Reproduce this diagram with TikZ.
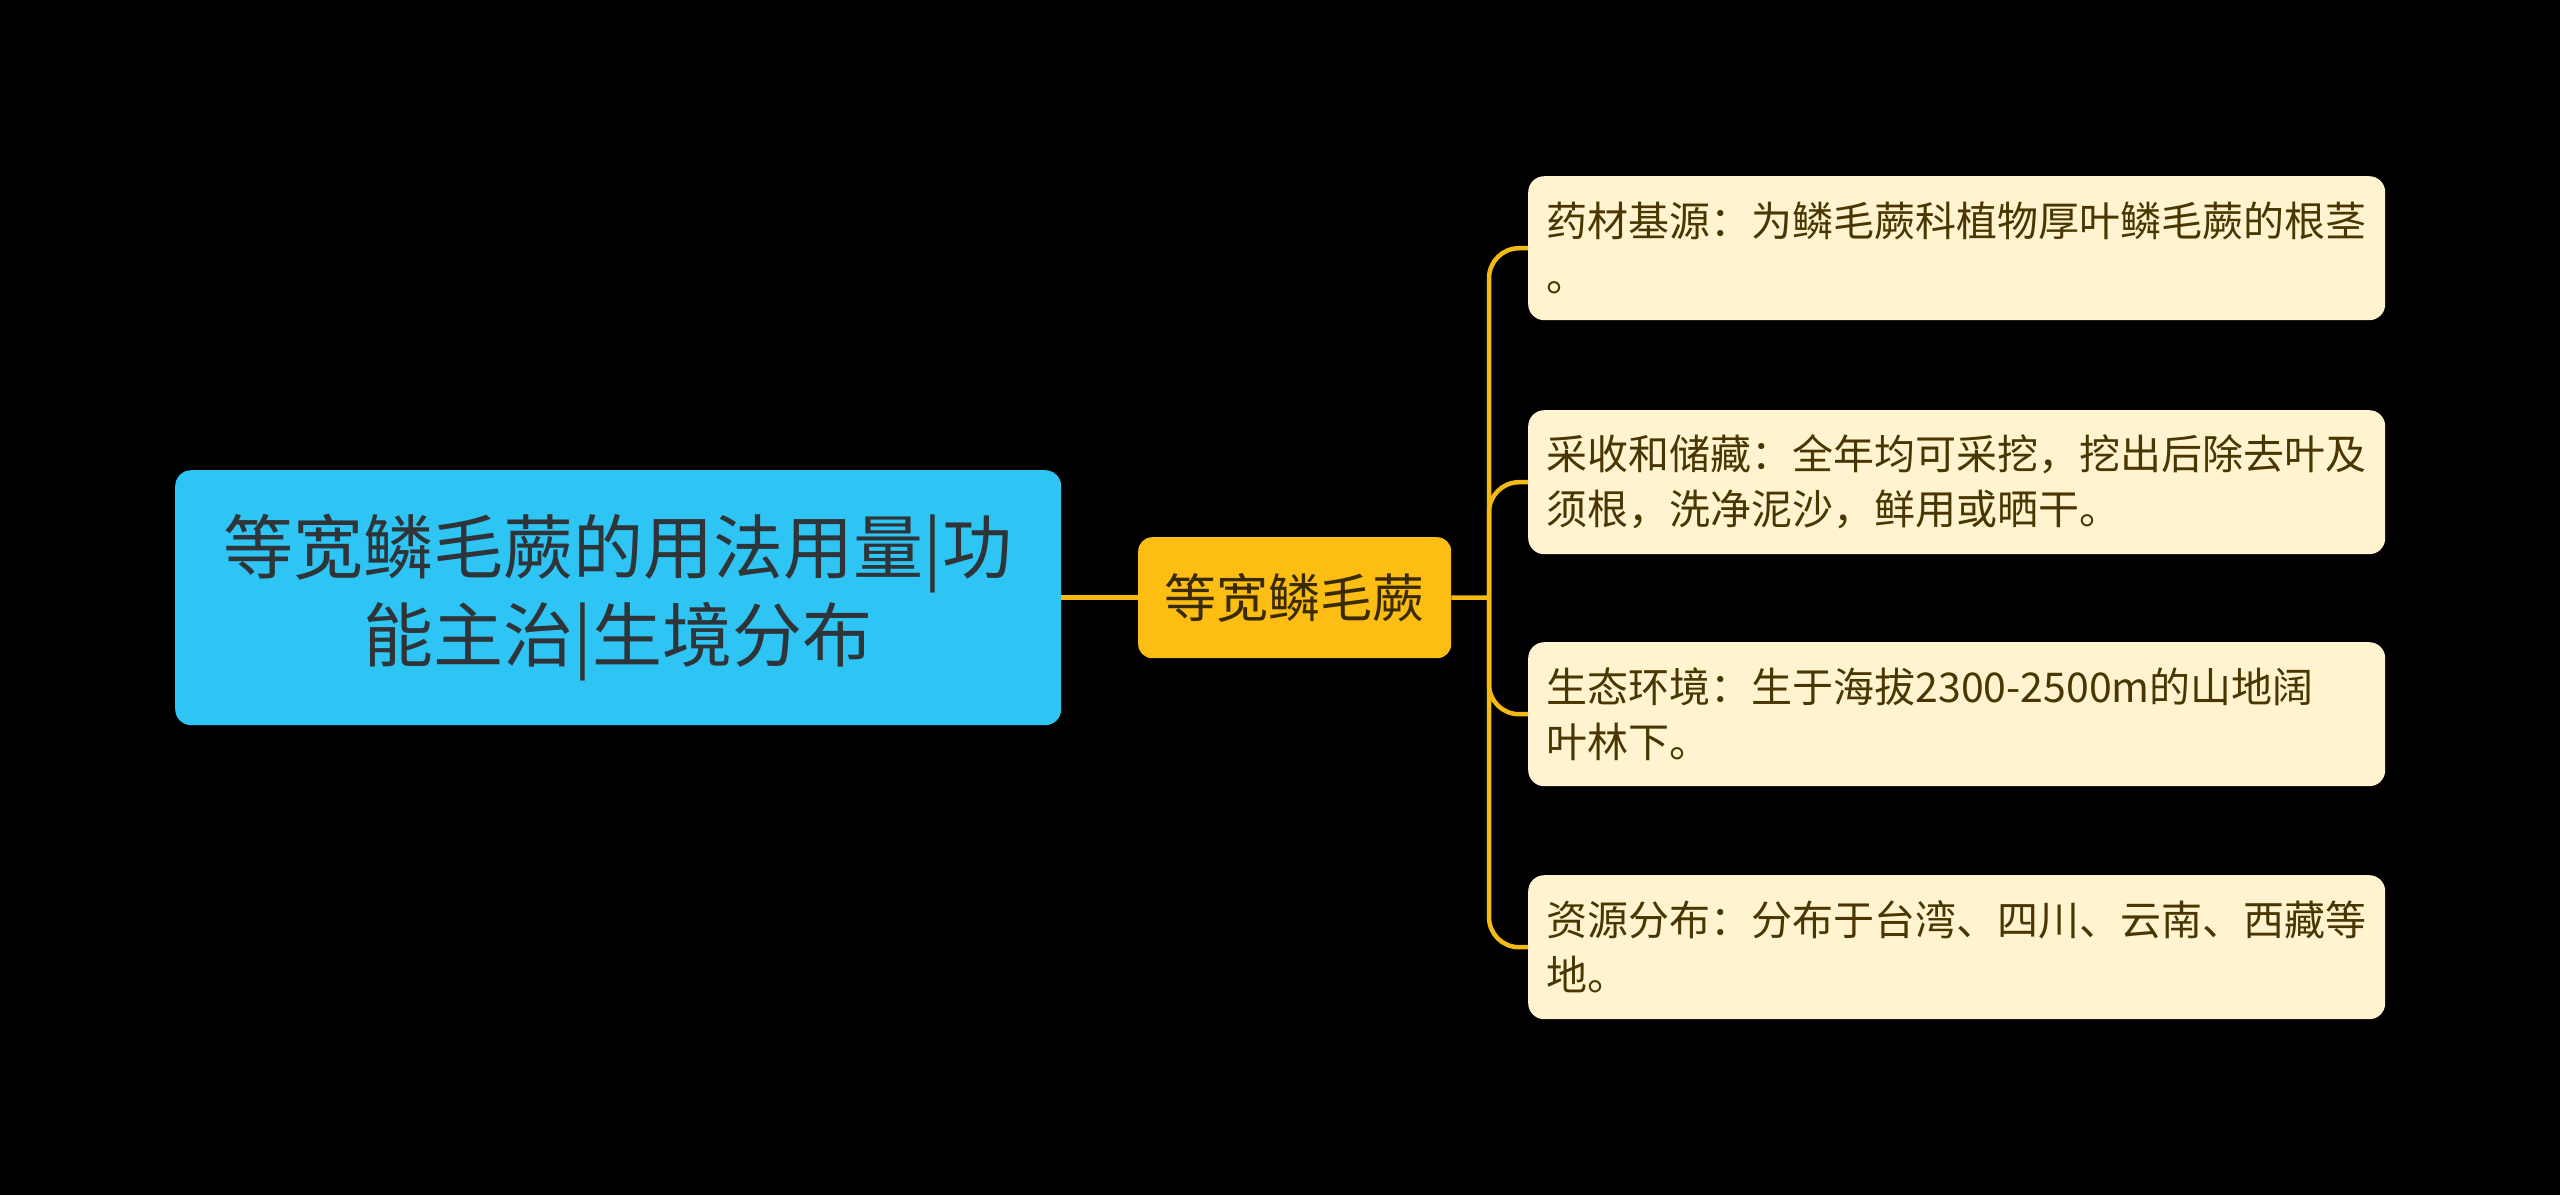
\documentclass[tikz,border=0pt]{standalone}
\usepackage{fontspec}
\setmainfont{Noto Sans CJK SC}
\definecolor{rootfill}{HTML}{2EC4F4}
\definecolor{roottext}{HTML}{2E3438}
\definecolor{midfill}{HTML}{FDBE14}
\definecolor{midtext}{HTML}{3A2A00}
\definecolor{leaffill}{HTML}{FFF3D0}
\definecolor{leaftext}{HTML}{4A3600}
\definecolor{conn}{HTML}{F5B914}
\tikzset{
  rootbox/.style={fill=rootfill, text=roottext, rounded corners=16pt, anchor=north west,
    minimum width=886pt, minimum height=255pt, text width=870pt, align=center, inner sep=0pt,
    font=\fontsize{70}{88}\selectfont},
  midbox/.style={fill=midfill, text=midtext, rounded corners=14pt, anchor=north west,
    minimum width=313pt, minimum height=121pt, inner sep=0pt,
    font=\fontsize{52}{60}\selectfont},
  leafbox/.style={fill=leaffill, text=leaftext, rounded corners=16pt, anchor=north west,
    minimum height=144pt, text width=820pt, inner xsep=18.5pt, inner ysep=0pt, align=left,
    font=\fontsize{41}{55}\selectfont},
  connline/.style={draw=conn, line width=4.5pt},
}
\begin{document}
\begin{tikzpicture}[x=1pt,y=-1pt]
\useasboundingbox[fill=black] (0,0) rectangle (2560,1195);
\node[rootbox] (root) at (175,470) {等宽鳞毛蕨的用法用量|功\\能主治|生境分布};
\node[midbox] (mid) at (1138,537) {等宽鳞毛蕨};
\node[leafbox] (b1) at (1528,176) {药材基源：为鳞毛蕨科植物厚叶鳞毛蕨的根茎\\。};
\node[leafbox] (b2) at (1528,410) {采收和储藏：全年均可采挖，挖出后除去叶及\\须根，洗净泥沙，鲜用或晒干。};
\node[leafbox] (b3) at (1528,642) {生态环境：生于海拔2300-2500m的山地阔\\叶林下。};
\node[leafbox] (b4) at (1528,875) {资源分布：分布于台湾、四川、云南、西藏等\\地。};
\coordinate (j) at (1489,597.5);
\draw[connline] (root.east) -- (mid.west);
\draw[connline] (mid.east) -- (j);
\foreach \b in {b1,b2,b3,b4}{
  \draw[connline, rounded corners=30pt] (j) |- (\b.west);
}
\end{tikzpicture}
\end{document}
